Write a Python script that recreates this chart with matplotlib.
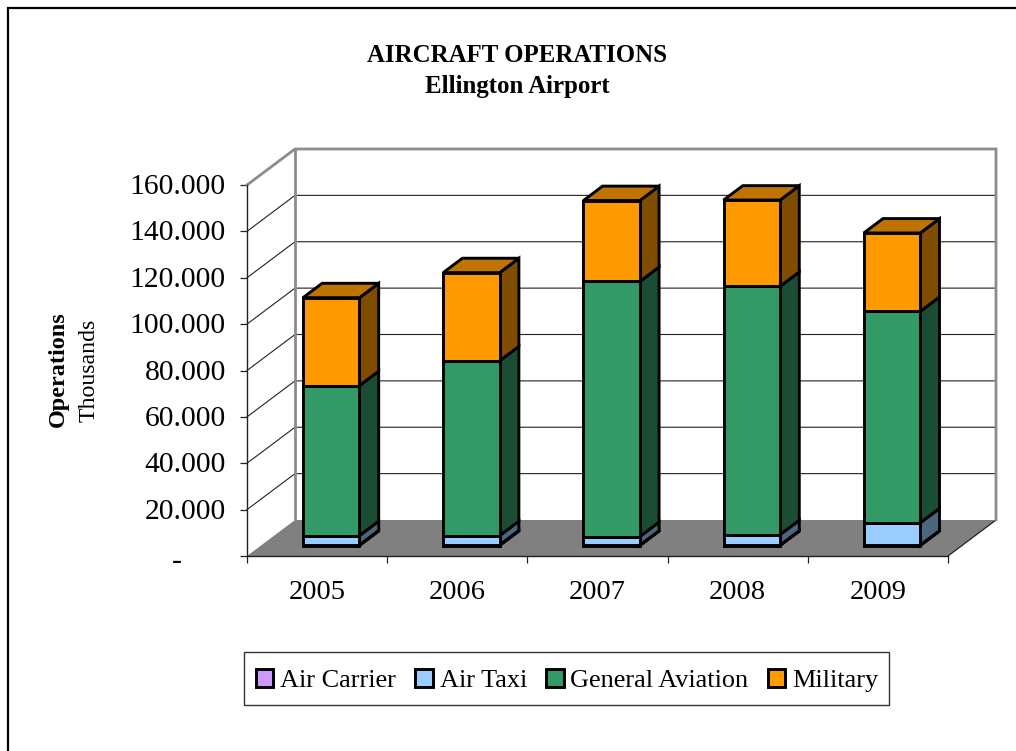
import matplotlib
matplotlib.use('Agg')
import matplotlib.pyplot as plt
from matplotlib.lines import Line2D
from matplotlib.patches import Patch, Polygon, Rectangle
from matplotlib.transforms import offset_copy

plt.rcParams['font.family'] = ['Liberation Serif', 'DejaVu Serif']

# === data ===
years = ['2005', '2006', '2007', '2008', '2009']
air_carrier = [300, 300, 200, 200, 200]
air_taxi = [4000, 4000, 3700, 4500, 9600]
general_aviation = [64700, 75400, 110000, 107100, 91200]
military = [37900, 38000, 34900, 37200, 33800]

series_names = ['Air Carrier', 'Air Taxi', 'General Aviation', 'Military']
series_values = [air_carrier, air_taxi, general_aviation, military]
series_colors = ['#CC99FF', '#99CCFF', '#339966', '#FF9900']

y_ticks = [0, 20000, 40000, 60000, 80000, 100000, 120000, 140000, 160000]
y_labels = ['-' + '\u00a0' * 6, '20.000', '40.000', '60.000', '80.000', '100.000', '120.000',
            '140.000', '160.000']

W, H = 1016, 751
fig = plt.figure(figsize=(W / 100, H / 100), dpi=100)
ax = fig.add_axes([247 / W, 1 - 556 / H, 701 / W, 371 / H])
ax.set_xlim(0, 5)
ax.set_ylim(0, 160000)
ax.patch.set_visible(False)

# depth of the fake 3D box, in data units
DX = 48 / (701 / 5)
DY = 36 / (371 / 160000)
BAR_X = 0.30
BAR_W = 0.403
D0, D1 = 0.29, 0.69


def pt(x, y, d):
    return (x + d * DX, y + d * DY)


def shade(color, f):
    r, g, b = matplotlib.colors.to_rgb(color)
    return (r * f, g * f, b * f)


def poly(points, face, edge='black', lw=2.1, z=3):
    ax.add_patch(Polygon(points, closed=True, facecolor=face, edgecolor=edge,
                         linewidth=lw, joinstyle='miter', clip_on=False, zorder=z))


# floor
poly([pt(0, 0, 0), pt(5, 0, 0), pt(5, 0, 1), pt(0, 0, 1)], '#808080', edge='none', lw=0, z=1)
ax.plot(*zip(pt(5, 0, 0), pt(5, 0, 1)), color='#222222', lw=0.9, clip_on=False, zorder=1.5)

# gridlines on the side and back walls
for v in y_ticks[1:-1]:
    ax.plot(*zip(pt(0, v, 0), pt(0, v, 1), pt(5, v, 1)), color='#222222', lw=0.8,
            clip_on=False, zorder=1.5)

# wall outline
top = y_ticks[-1]
ax.plot(*zip(pt(0, top, 0), pt(0, top, 1), pt(5, top, 1), pt(5, 0, 1)), color='#8C8C8C',
        lw=2.0, clip_on=False, zorder=1.6, solid_joinstyle='miter')
ax.plot(*zip(pt(0, 0, 1), pt(0, top, 1)), color='#8C8C8C', lw=2.0, clip_on=False, zorder=1.6)

# stacked bars
for i in range(len(years)):
    base = 0
    x0 = i + BAR_X
    x1 = x0 + BAR_W
    for values, color in zip(series_values, series_colors):
        v = values[i]
        y0, y1 = base, base + v
        poly([pt(x1, y0, D0), pt(x1, y0, D1), pt(x1, y1, D1), pt(x1, y1, D0)], shade(color, 0.5))
        poly([pt(x0, y0, D0), pt(x1, y0, D0), pt(x1, y1, D0), pt(x0, y1, D0)], color, z=3.1)
        base = y1
    poly([pt(x0, base, D0), pt(x1, base, D0), pt(x1, base, D1), pt(x0, base, D1)],
         shade(series_colors[-1], 0.75), z=3.05)

# axes
for s in ['top', 'right']:
    ax.spines[s].set_visible(False)
for s in ['left', 'bottom']:
    ax.spines[s].set_color('#222222')
    ax.spines[s].set_linewidth(1.0)
    ax.spines[s].set_zorder(2)

ax.set_yticks(y_ticks)
ax.set_yticklabels(y_labels, fontsize=21.3)
ax.set_xticks(range(6))
ax.set_xticklabels([])
ax.set_xticks([i + 0.5 for i in range(5)], minor=True)
ax.set_xticklabels(years, minor=True, fontsize=20.5)
ax.tick_params(axis='y', length=5.2, width=0.9, pad=10, color='#222222')
ax.tick_params(axis='x', which='major', length=5.2, width=0.9, color='#222222')
ax.tick_params(axis='x', which='minor', length=0, pad=17)

# nudge the y labels: the dash sits low in the reference, the numbers a bit high
for i, label in enumerate(ax.get_yticklabels()):
    shift = -2.2 if i == 0 else 0.7
    label.set_transform(offset_copy(label.get_transform(), fig=fig, y=shift, units='points'))

# titles
fig.text(517 / W, 1 - 55 / H, 'AIRCRAFT OPERATIONS', ha='center', va='center',
         fontsize=17.9, fontweight='bold')
fig.text(517 / W, 1 - 86 / H, 'Ellington Airport', ha='center', va='center',
         fontsize=17.9, fontweight='bold')
fig.text(58 / W, 1 - 369 / H, 'Operations', rotation=90, ha='center', va='center',
         fontsize=17.5, fontweight='bold')
fig.text(89 / W, 1 - 370 / H, 'Thousands', rotation=90, ha='center', va='center', fontsize=17.2)

# legend box drawn on its own so it can sit tight around the text
fig.add_artist(Rectangle((244 / W, 1 - 705 / H), 645 / W, 53 / H, transform=fig.transFigure,
                         facecolor='white', edgecolor='#333333', linewidth=1.0, zorder=1))
handles = [Patch(facecolor=c, edgecolor='black', linewidth=2.1) for c in series_colors]
leg = fig.legend(handles, series_names, ncol=4, loc='center left',
                 bbox_to_anchor=(256 / W, 1 - 680.5 / H), fontsize=18.9, frameon=False,
                 handlelength=0.66, handleheight=0.66, handletextpad=0.26,
                 columnspacing=0.74, borderpad=0, borderaxespad=0)

# outer frame, only left and top are inside the picture
fig.add_artist(Line2D([7.5 / W, 7.5 / W, 1], [0, 1 - 8 / H, 1 - 8 / H], color='black', lw=1.6,
                      solid_joinstyle='miter'))

fig.savefig('out.png', dpi=100)
